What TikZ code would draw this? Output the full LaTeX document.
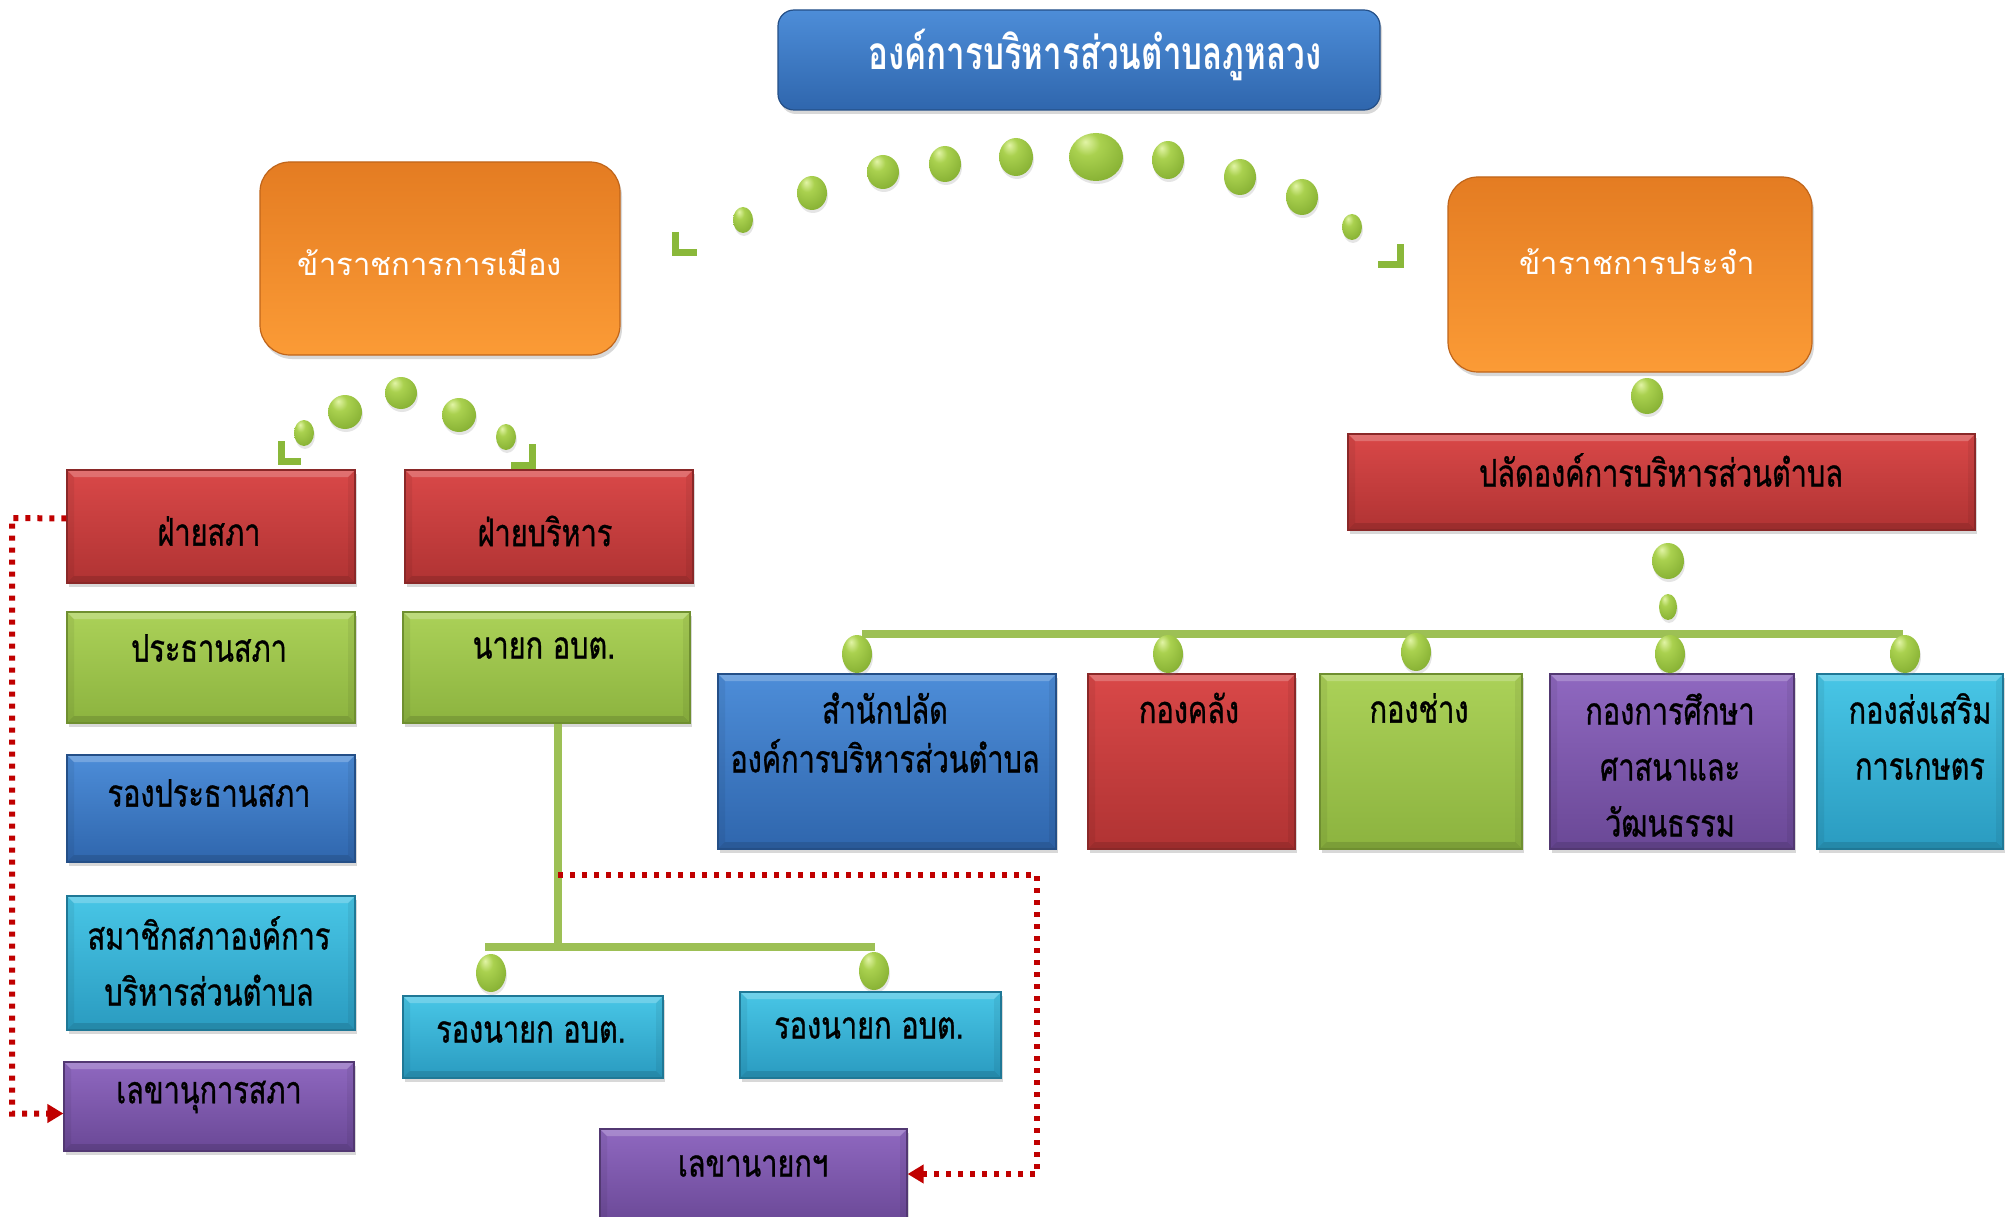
\documentclass[tikz,border=0pt]{standalone}
\usepackage{fontspec}
\newfontfamily\thaic[Script=Thai,FakeStretch=0.76,FakeBold=0.8]{Loma}
\newfontfamily\thaiw[Script=Thai]{Loma}
\newfontfamily\thait[Script=Thai,FakeStretch=0.72]{Loma}
\usetikzlibrary{shadows,arrows.meta,shapes.geometric}
\definecolor{rtop}{HTML}{D94848}\definecolor{rbot}{HTML}{B03333}\definecolor{rdk}{HTML}{8A2828}
\definecolor{gtop}{HTML}{ABD158}\definecolor{gbot}{HTML}{8CB33F}\definecolor{gdk}{HTML}{6F8F30}
\definecolor{btop}{HTML}{4D8DD8}\definecolor{bbot}{HTML}{2F66AD}\definecolor{bdk}{HTML}{244F87}
\definecolor{ctop}{HTML}{48C6E6}\definecolor{cbot}{HTML}{2A9BC0}\definecolor{cdk}{HTML}{1F7896}
\definecolor{ptop}{HTML}{8F68C0}\definecolor{pbot}{HTML}{6A4896}\definecolor{pdk}{HTML}{523872}
\definecolor{otop}{HTML}{E47C22}\definecolor{obot}{HTML}{FB9B36}\definecolor{odk}{HTML}{C0651A}
\definecolor{barg}{HTML}{9DC055}\definecolor{chevg}{HTML}{8AB83A}\definecolor{chevd}{HTML}{6E9A2A}
\definecolor{dotred}{HTML}{C00000}
\definecolor{gbl}{HTML}{E2F4A6}\definecolor{gbm}{HTML}{AAD14F}\definecolor{gbd}{HTML}{86B033}\definecolor{gbe}{HTML}{6C9326}
\pgfdeclareradialshading{gball}{\pgfpoint{-10bp}{16bp}}{color(0bp)=(gbl); color(12bp)=(gbm); color(36bp)=(gbd); color(52bp)=(gbe); color(80bp)=(gbe)}
\tikzset{
  bevel/.style={path picture={
    \fill[white, opacity=0.22] (path picture bounding box.north west) -- (path picture bounding box.north east)
      -- ([xshift=-7pt,yshift=-7pt]path picture bounding box.north east) -- ([xshift=7pt,yshift=-7pt]path picture bounding box.north west) -- cycle;
    \fill[black, opacity=0.12] (path picture bounding box.south west) -- (path picture bounding box.south east)
      -- ([xshift=-7pt,yshift=7pt]path picture bounding box.south east) -- ([xshift=7pt,yshift=7pt]path picture bounding box.south west) -- cycle;
    \fill[black, opacity=0.06] (path picture bounding box.north east) -- (path picture bounding box.south east)
      -- ([xshift=-7pt,yshift=7pt]path picture bounding box.south east) -- ([xshift=-7pt,yshift=-7pt]path picture bounding box.north east) -- cycle;
    \fill[black, opacity=0.06] (path picture bounding box.north west) -- (path picture bounding box.south west)
      -- ([xshift=7pt,yshift=7pt]path picture bounding box.south west) -- ([xshift=7pt,yshift=-7pt]path picture bounding box.north west) -- cycle;
  }},
  boxbase/.style={rectangle, inner sep=0pt, line width=1.2pt, bevel,
    drop shadow={opacity=0.3, shadow xshift=2pt, shadow yshift=-4pt}},
  redbox/.style={boxbase, top color=rtop, bottom color=rbot, draw=rdk},
  greenbox/.style={boxbase, top color=gtop, bottom color=gbot, draw=gdk},
  bluebox/.style={boxbase, top color=btop, bottom color=bbot, draw=bdk},
  cyanbox/.style={boxbase, top color=ctop, bottom color=cbot, draw=cdk},
  purplebox/.style={boxbase, top color=ptop, bottom color=pbot, draw=pdk},
  orangebox/.style={rectangle, inner sep=0pt, line width=1.2pt, rounded corners=30pt,
    drop shadow={opacity=0.3, shadow xshift=2pt, shadow yshift=-4pt},
    top color=otop, bottom color=obot, draw=odk},
  titlebox/.style={rectangle, inner sep=0pt, line width=1.2pt, rounded corners=16pt,
    drop shadow={opacity=0.3, shadow xshift=2pt, shadow yshift=-4pt},
    top color=btop, bottom color=bbot, draw=bdk},
  txt/.style={inner sep=0pt, text=black, align=center, font={\thaic\fontsize{38}{56}\selectfont}},
  otxt/.style={inner sep=0pt, text=white, font={\thaiw\fontsize{31}{36}\selectfont}},
  ttxt/.style={inner sep=0pt, text=white, font={\thait\bfseries\fontsize{46}{50}\selectfont}},
  gdot/.style={ellipse, inner sep=0pt, shading=gball,
    drop shadow={opacity=0.2, shadow xshift=1pt, shadow yshift=-3pt}},
  gbar/.style={draw=barg, line width=8pt},
  chev/.style={draw=chevg, line width=7pt, line join=miter},
  reddot/.style={draw=dotred, line width=6pt, dash pattern=on 5pt off 7pt,
    -{Triangle[length=16pt,width=18pt]}},
}
\begin{document}
\begin{tikzpicture}[x=1pt,y=-1pt]
\useasboundingbox (0,0) rectangle (2006,1217);
\fill[white] (0,0) rectangle (2006,1217);
% title
\node[titlebox, minimum width=602pt, minimum height=100pt] (title) at (1079,60) {};
\node[ttxt] (titlet) at (1095,55) {องค์การบริหารส่วนตำบลภูหลวง};
% orange boxes
\node[orangebox, minimum width=360pt, minimum height=193pt] (pol) at (440,258.5) {};
\node[otxt] (polt) at (430,263) {ข้าราชการการเมือง};
\node[orangebox, minimum width=364pt, minimum height=195pt] (perm) at (1630,274.5) {};
\node[otxt] (permt) at (1637,262) {ข้าราชการประจำ};
% top arc of dots
\node[gdot, minimum width=20pt, minimum height=26pt] (a1) at (743,220) {};
\node[gdot, minimum width=30pt, minimum height=34pt] (a2) at (812,193) {};
\node[gdot, minimum width=32pt, minimum height=34pt] (a3) at (883,172) {};
\node[gdot, minimum width=32pt, minimum height=36pt] (a4) at (945,164) {};
\node[gdot, minimum width=34pt, minimum height=38pt] (a5) at (1016,157) {};
\node[gdot, minimum width=54pt, minimum height=48pt] (a6) at (1096,157) {};
\node[gdot, minimum width=32pt, minimum height=38pt] (a7) at (1168,160) {};
\node[gdot, minimum width=32pt, minimum height=36pt] (a8) at (1240,177) {};
\node[gdot, minimum width=32pt, minimum height=36pt] (a9) at (1302,197) {};
\node[gdot, minimum width=20pt, minimum height=26pt] (a10) at (1352,227) {};
\draw[chev] (675,232) -- (675,253) -- (697,253);
\draw[chev] (1378,265) -- (1400,265) -- (1400,244);
% left small arc
\node[gdot, minimum width=20pt, minimum height=26pt] (l1) at (304,433) {};
\node[gdot, minimum width=34pt, minimum height=34pt] (l2) at (345,412) {};
\node[gdot, minimum width=32pt, minimum height=32pt] (l3) at (401,393) {};
\node[gdot, minimum width=34pt, minimum height=34pt] (l4) at (459,415) {};
\node[gdot, minimum width=20pt, minimum height=26pt] (l5) at (506,437) {};
\draw[chev] (281,441) -- (281,461) -- (301,461);
\draw[chev] (511,465) -- (532,465) -- (532,444);
% left column
\node[redbox, minimum width=288pt, minimum height=113pt] (fs) at (211,526.5) {};
\node[txt] (fst) at (209,531) {ฝ่ายสภา};
\node[redbox, minimum width=288pt, minimum height=113pt] (fb) at (549,526.5) {};
\node[txt] (fbt) at (545,531) {ฝ่ายบริหาร};
\node[greenbox, minimum width=288pt, minimum height=111pt] (pr) at (211,667.5) {};
\node[txt] (prt) at (209,648) {ประธานสภา};
\node[greenbox, minimum width=287pt, minimum height=111pt] (ny) at (546.5,667.5) {};
\node[txt] (nyt) at (544,648) {นายก อบต.};
\node[bluebox, minimum width=288pt, minimum height=107pt] (rp) at (211,808.5) {};
\node[txt] (rpt) at (209,793) {รองประธานสภา};
\node[cyanbox, minimum width=288pt, minimum height=134pt] (sm) at (211,963) {};
\node[txt] (smt) at (209,961) {สมาชิกสภาองค์การ\\บริหารส่วนตำบล};
\node[purplebox, minimum width=290pt, minimum height=89pt] (ls) at (209,1106.5) {};
\node[txt] (lst) at (209,1097) {เลขานุการสภา};
% executive branch
\coordinate (vt) at (558,947);
\draw[gbar] (ny.south -| vt) -- (vt);
\coordinate (hb1) at (485,947);
\coordinate (hb2) at (875,947);
\draw[gbar] (hb1) -- (hb2);
\node[gdot, minimum width=30pt, minimum height=38pt] (rd1) at (491,973) {};
\node[gdot, minimum width=30pt, minimum height=38pt] (rd2) at (874,971) {};
\node[cyanbox, minimum width=260pt, minimum height=82pt] (rn1) at (533,1037) {};
\node[txt] (rn1t) at (531,1032) {รองนายก อบต.};
\node[cyanbox, minimum width=261pt, minimum height=86pt] (rn2) at (870.5,1035) {};
\node[txt] (rn2t) at (869,1028) {รองนายก อบต.};
\node[purplebox, minimum width=307pt, minimum height=96pt] (ln) at (753.5,1177) {};
\node[txt] (lnt) at (753,1166) {เลขานายกฯ};
% red dotted connectors
\draw[reddot] ([yshift=8pt]fs.west) -- (12,518) |- ([yshift=-7pt]ls.west);
\coordinate (jn) at (558,875);
\draw[reddot] (jn) -- (1037,875) |- ([yshift=3pt]ln.east);
% right branch
\node[gdot, minimum width=32pt, minimum height=36pt] (r1) at (1647,396) {};
\node[redbox, minimum width=627pt, minimum height=96pt] (pl) at (1661.5,482) {};
\node[txt] (plt) at (1661,470) {ปลัดองค์การบริหารส่วนตำบล};
\node[gdot, minimum width=32pt, minimum height=36pt] (r2) at (1668,561) {};
\node[gdot, minimum width=18pt, minimum height=26pt] (r3) at (1668,607) {};
\coordinate (tb1) at (862,634);
\coordinate (tb2) at (1903,634);
\draw[gbar] (tb1) -- (tb2);
\node[bluebox, minimum width=338pt, minimum height=175pt] (b1) at (887,761.5) {};
\node[txt, font={\thaic\fontsize{38}{49}\selectfont}] (b1t) at (885,732.5) {สำนักปลัด\\องค์การบริหารส่วนตำบล};
\node[redbox, minimum width=207pt, minimum height=175pt] (b2) at (1191.5,761.5) {};
\node[txt] (b2t) at (1189,708) {กองคลัง};
\node[greenbox, minimum width=202pt, minimum height=175pt] (b3) at (1421,761.5) {};
\node[txt] (b3t) at (1419,708) {กองช่าง};
\node[purplebox, minimum width=244pt, minimum height=175pt] (b4) at (1672,761.5) {};
\node[txt] (b4t) at (1670,765) {กองการศึกษา\\ศาสนาและ\\วัฒนธรรม};
\node[cyanbox, minimum width=186pt, minimum height=175pt] (b5) at (1910,761.5) {};
\node[txt] (b5t) at (1920,736.5) {กองส่งเสริม\\การเกษตร};
\node[gdot, minimum width=30pt, minimum height=38pt] (bd1) at (857,654) {};
\node[gdot, minimum width=30pt, minimum height=38pt] (bd2) at (1168,654) {};
\node[gdot, minimum width=30pt, minimum height=38pt] (bd3) at (1416,652) {};
\node[gdot, minimum width=30pt, minimum height=38pt] (bd4) at (1670,654) {};
\node[gdot, minimum width=30pt, minimum height=38pt] (bd5) at (1905,654) {};
\end{tikzpicture}
\end{document}
